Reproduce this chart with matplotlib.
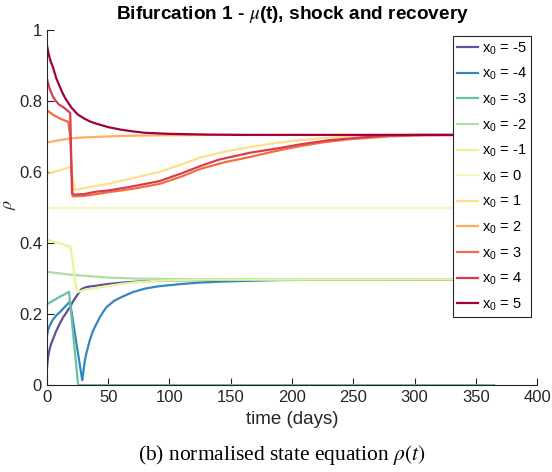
import matplotlib
matplotlib.use("Agg")
import matplotlib.pyplot as plt

# values (time in days, normalised state rho)
t_m5 = [0, 0.5, 1, 1.7, 2.4, 3.5, 5, 7.5, 10.6, 13, 15, 18.8, 22, 25.6, 28, 31, 35, 40, 50, 62, 75, 100, 150, 365]
r_m5 = [0.047, 0.065, 0.08, 0.093, 0.104, 0.117, 0.13, 0.152, 0.174, 0.19, 0.20, 0.22, 0.24, 0.258, 0.27, 0.275, 0.278, 0.28, 0.285, 0.289, 0.292, 0.295, 0.297, 0.298]

t_m4 = [0, 1, 2.4, 5, 7.5, 10.6, 15, 18.8, 28.8, 29.5, 30, 31, 32, 33, 35, 37.5, 40, 43, 46, 48.7, 55, 62, 70, 80, 90, 98, 110, 125, 145, 166, 190, 220, 365]
r_m4 = [0.138, 0.155, 0.169, 0.185, 0.196, 0.206, 0.222, 0.235, 0.014, 0.03, 0.045, 0.07, 0.087, 0.10, 0.127, 0.152, 0.17, 0.19, 0.207, 0.22, 0.238, 0.25, 0.262, 0.272, 0.278, 0.281, 0.285, 0.289, 0.292, 0.294, 0.296, 0.297, 0.298]

t_m3 = [0, 5, 10, 15, 18, 25.5, 365]
r_m3 = [0.228, 0.238, 0.248, 0.257, 0.263, 0.0, 0.0]

t_m2 = [0, 10, 20, 35, 50, 76, 100, 365]
r_m2 = [0.319, 0.315, 0.311, 0.307, 0.303, 0.300, 0.299, 0.298]

t_m1 = [0, 5, 10, 15, 19, 21, 23, 25, 30, 40, 49, 60, 73, 90, 120, 365]
r_m1 = [0.41, 0.405, 0.40, 0.395, 0.39, 0.35, 0.29, 0.262, 0.268, 0.274, 0.279, 0.285, 0.29, 0.294, 0.297, 0.298]

t_0 = [0, 365]
r_0 = [0.5, 0.5]

t_p1 = [0, 5, 10, 15, 19, 23, 24, 35, 51, 70, 92, 110, 125, 145, 166, 186, 206, 225, 247, 280, 365]
r_p1 = [0.594, 0.60, 0.605, 0.61, 0.615, 0.549, 0.551, 0.558, 0.568, 0.583, 0.601, 0.622, 0.641, 0.658, 0.671, 0.682, 0.69, 0.696, 0.70, 0.704, 0.705]

t_p2 = [0, 10, 19, 30, 45, 70, 100, 150, 365]
r_p2 = [0.684, 0.69, 0.695, 0.698, 0.70, 0.703, 0.704, 0.705, 0.705]

t_p3 = [0, 2.5, 5, 7.5, 10, 13.5, 17.4, 19, 21, 30, 40, 51, 70, 92, 110, 125, 145, 166, 186, 206, 225, 247, 280, 310, 365]
r_p3 = [0.775, 0.768, 0.762, 0.757, 0.752, 0.747, 0.742, 0.70, 0.532, 0.533, 0.538, 0.544, 0.553, 0.567, 0.588, 0.609, 0.628, 0.643, 0.659, 0.673, 0.684, 0.693, 0.701, 0.704, 0.705]

t_p4 = [0, 1, 2.5, 5, 7.5, 10, 13, 16, 19, 20.5, 22, 30, 40, 51, 70, 92, 110, 125, 140, 166, 190, 206, 230, 247, 274, 300, 365]
r_p4 = [0.864, 0.85, 0.833, 0.812, 0.80, 0.79, 0.784, 0.776, 0.767, 0.54, 0.537, 0.538, 0.545, 0.549, 0.56, 0.575, 0.597, 0.617, 0.635, 0.655, 0.668, 0.678, 0.69, 0.695, 0.703, 0.705, 0.705]

t_p5 = [0, 1, 2, 3, 5, 7.5, 10, 12.5, 15, 17.5, 20, 25, 30, 35, 40, 50, 60, 70, 80, 100, 130, 160, 365]
r_p5 = [0.958, 0.94, 0.925, 0.913, 0.895, 0.866, 0.845, 0.825, 0.808, 0.795, 0.782, 0.763, 0.752, 0.743, 0.737, 0.727, 0.72, 0.715, 0.711, 0.708, 0.706, 0.705, 0.705]

x0_vals = [-5, -4, -3, -2, -1, 0, 1, 2, 3, 4, 5]
times = [t_m5, t_m4, t_m3, t_m2, t_m1, t_0, t_p1, t_p2, t_p3, t_p4, t_p5]
rhos = [r_m5, r_m4, r_m3, r_m2, r_m1, r_0, r_p1, r_p2, r_p3, r_p4, r_p5]

colors = ['#5e4fa2', '#3288bd', '#66c2a5', '#abdda4', '#e6f598', '#f5f5c0',
          '#fee08b', '#fdae61', '#f46d43', '#d53e4f', '#9e0142']

plt.rcParams['font.family'] = ['Liberation Sans', 'DejaVu Sans']
plt.rcParams['mathtext.fontset'] = 'custom'
plt.rcParams['mathtext.rm'] = 'Liberation Sans'
plt.rcParams['mathtext.it'] = 'Liberation Sans:italic'

fig = plt.figure(figsize=(5.52, 4.72), dpi=100)
ax = fig.add_axes([0.085, 0.184, 0.888, 0.752])

for t, r, c, x0 in zip(times, rhos, colors, x0_vals):
    ax.plot(t, r, color=c, lw=1.6, label='x$_{\\mathrm{0}}$ = %d' % x0)

ax.set_xlim(0, 400)
ax.set_ylim(0, 1)
ax.set_xticks(range(0, 401, 50))
ax.set_yticks([0, 0.2, 0.4, 0.6, 0.8, 1])
ax.set_yticklabels(['0', '0.2', '0.4', '0.6', '0.8', '1'])
ax.spines['top'].set_visible(False)
ax.spines['right'].set_visible(False)
for s in ['left', 'bottom']:
    ax.spines[s].set_color('#262626')
    ax.spines[s].set_linewidth(0.8)
ax.tick_params(direction='in', length=5, width=0.8, colors='#262626', labelsize=12)

ax.set_xlabel('time (days)', fontsize=13.5, color='#262626', labelpad=4)
ax.set_ylabel(r'$\rho$', fontsize=13, color='#262626', math_fontfamily='stix')
ax.yaxis.set_label_coords(-0.058, 0.51)
ax.set_title(r'Bifurcation 1 - $\mu$(t), shock and recovery', fontsize=13.7,
             fontweight='bold', pad=8, math_fontfamily='stix')

leg = ax.legend(loc='upper right', fontsize=10.5, handlelength=1.4, handletextpad=0.3,
                labelspacing=0.63, borderpad=0.3, borderaxespad=0.4, fancybox=False,
                framealpha=1)
leg.get_frame().set_edgecolor('#262626')
leg.get_frame().set_linewidth(0.8)

fig.text(0.51, 0.025, r'(b) normalised state equation $\rho(t)$', ha='center',
         fontsize=15.5, family='Liberation Serif', math_fontfamily='stix')

fig.savefig('out.png', dpi=100)
